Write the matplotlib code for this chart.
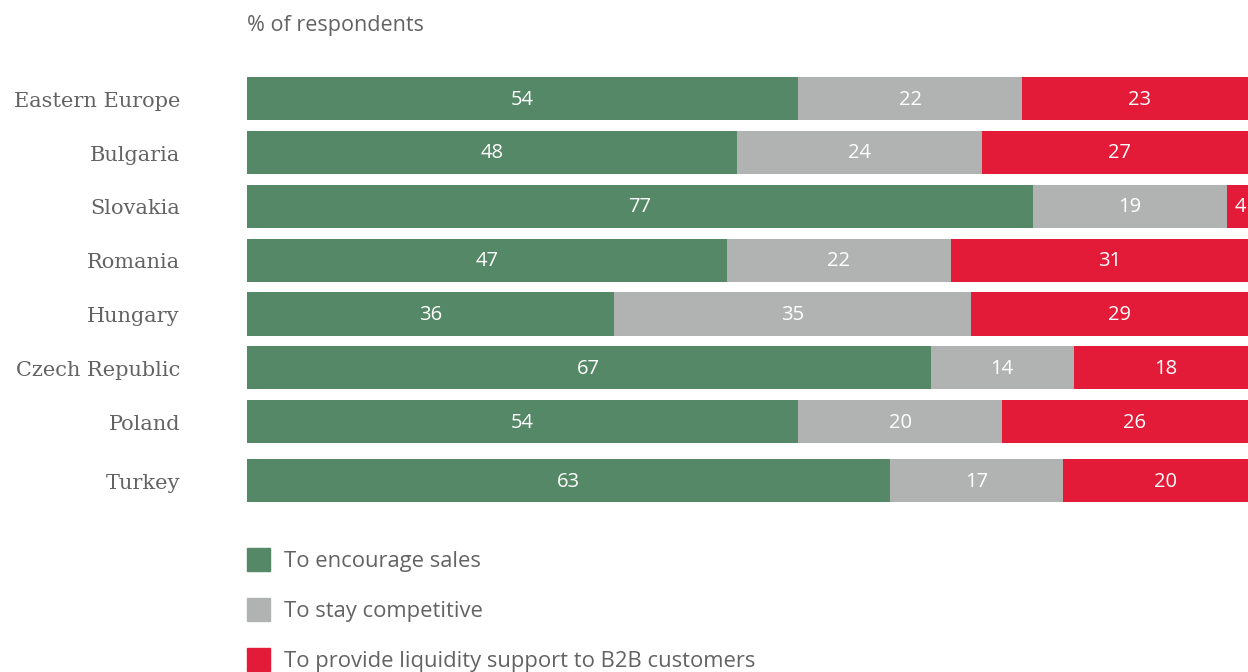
import numpy as np
import matplotlib.pyplot as plt
from matplotlib.patches import Rectangle

countries = ["Eastern Europe", "Bulgaria", "Slovakia", "Romania", "Hungary",
             "Czech Republic", "Poland", "Turkey"]
encourage = [54, 48, 77, 47, 36, 67, 54, 63]
competitive = [22, 24, 19, 22, 35, 14, 20, 17]
liquidity = [23, 27, 4, 31, 29, 18, 26, 20]

series = [encourage, competitive, liquidity]
names = ["To encourage sales", "To stay competitive",
         "To provide liquidity support to B2B customers"]
colors = ["#558866", "#b1b3b3", "#e31b38"]
text_col = "#636363"

fig = plt.figure(figsize=(12.48, 6.72), dpi=100)
W, H = 1248, 672

# axes spans the bar area; the right end is cut by the figure edge
ax = fig.add_axes([247 / W, 1 - 502 / H, 1001 / W, 425 / H])
xmax = 98.1
ypos = np.arange(len(countries), dtype=float)
ypos[-1] += 0.09  # small extra gap before Turkey
height = 0.8

left = np.zeros(len(countries))
for vals, col in zip(series, colors):
    vals = np.array(vals, dtype=float)
    ax.barh(ypos, vals, left=left, height=height, color=col, linewidth=0)
    for y, l, v in zip(ypos, left, vals):
        cx = min(l + v / 2, xmax - 0.7)
        ax.text(cx, y + 0.02, str(int(v)), ha="center", va="center", color="white",
                fontsize=14.5, family="Open Sans")
    left += vals

ax.set_xlim(0, xmax)
ax.set_ylim(ypos[-1] + 0.4, -0.4)
ax.axis("off")

for y, name in zip(ypos, countries):
    ax.text(-67 / 10.2, y + 0.05, name, ha="right", va="center", color=text_col,
            fontsize=15, family="DejaVu Serif")

fig.text(247 / W, 1 - 25 / H, "% of respondents", ha="left", va="center",
         color=text_col, fontsize=15.5, family="Open Sans")

# legend drawn by hand below the bars
for i, (name, col) in enumerate(zip(names, colors)):
    top = 548 + 50 * i
    fig.patches.append(Rectangle((247 / W, 1 - (top + 23) / H), 23 / W, 23 / H,
                                 transform=fig.transFigure, color=col))
    fig.text(284 / W, 1 - (top + 13) / H, name, ha="left", va="center",
             color=text_col, fontsize=15.8, family="Open Sans")

fig.savefig("out.png", dpi=100)
